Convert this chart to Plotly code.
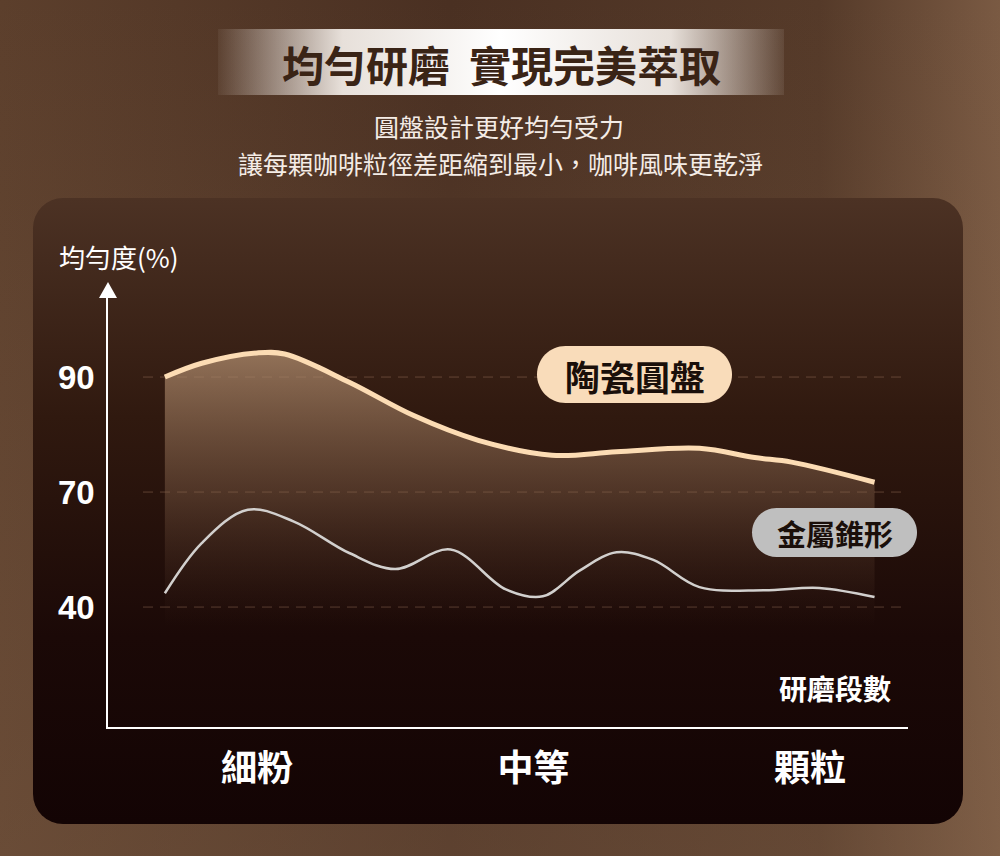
import base64
import numpy as np
import plotly.graph_objects as go

W, H = 1000, 856
CJK = "Noto Sans CJK TC"

# ---- data ----
GRIND_LABELS = ["細粉", "中等", "顆粒"]
GRIND_TICKS = [2, 5, 8]
Y_TICKS = [40, 70, 90]

ceramic_x = [1.0, 1.4, 2.0, 2.3, 3.0, 3.7, 4.4, 5.2, 5.9, 6.8, 7.4, 7.8, 8.7]
ceramic_y = [90.0, 92.4, 94.2, 94.0, 89.1, 83.3, 79.0, 76.4, 77.0, 77.6, 76.0, 75.2, 71.7]

metal_x = [1.0, 1.4, 1.9, 2.4, 3.0, 3.5, 4.1, 4.7, 5.1, 5.5, 5.9, 6.3, 6.8, 7.5, 8.1, 8.7]
metal_y = [43.6, 56.7, 65.4, 62.3, 54.1, 49.9, 55.0, 44.6, 42.8, 49.5, 54.3, 52.3, 45.2, 44.4, 45.0, 42.6]

FILL_FLOOR = 35  # 陶瓷圓盤 shaded area runs down to here


def to_axis(v):
    """The chart's y scale is stretched: 40→70 and 70→90 get the same height."""
    v = np.asarray(v, dtype=float)
    return np.where(v >= 70, 1 + (v - 70) / 20, (v - 40) / 30)


def px(x):
    return x / W


def py(y):
    return 1 - y / H


def pill_path(x0, y0, x1, y1):
    r = (y1 - y0) / 2
    k = 0.5523 * r
    pts = [
        ("M", [(x0 + r, y0)]),
        ("L", [(x1 - r, y0)]),
        ("C", [(x1 - r + k, y0), (x1, y0 + r - k), (x1, y0 + r)]),
        ("C", [(x1, y0 + r + k), (x1 - r + k, y1), (x1 - r, y1)]),
        ("L", [(x0 + r, y1)]),
        ("C", [(x0 + r - k, y1), (x0, y0 + r + k), (x0, y0 + r)]),
        ("C", [(x0, y0 + r - k), (x0 + r - k, y0), (x0 + r, y0)]),
    ]
    out = ""
    for cmd, p in pts:
        out += cmd + " ".join(f"{px(a):.5f},{py(b):.5f}" for a, b in p)
    return out + "Z"


# background, panel and title banner as one svg picture
bg_svg = f"""<svg xmlns='http://www.w3.org/2000/svg' width='{W}' height='{H}' viewBox='0 0 {W} {H}' preserveAspectRatio='none'>
<defs>
<linearGradient id='bg' x1='0' y1='0' x2='1' y2='0'>
<stop offset='0' stop-color='#5c3f2c'/><stop offset='0.45' stop-color='#4a3022'/>
<stop offset='0.82' stop-color='#553a29'/><stop offset='1' stop-color='#7a5a43'/></linearGradient>
<linearGradient id='bgv' x1='0' y1='0' x2='0' y2='1'>
<stop offset='0' stop-color='#8a6a50' stop-opacity='0'/><stop offset='1' stop-color='#8a6a50' stop-opacity='0.3'/></linearGradient>
<linearGradient id='panel' x1='0' y1='0' x2='0' y2='1'>
<stop offset='0' stop-color='#4c3224'/><stop offset='0.35' stop-color='#30190f'/>
<stop offset='0.7' stop-color='#1b0907'/><stop offset='1' stop-color='#130404'/></linearGradient>
<linearGradient id='banner' x1='0' y1='0' x2='1' y2='0'>
<stop offset='0' stop-color='#f8f3ee' stop-opacity='0.05'/><stop offset='0.22' stop-color='#f8f3ee' stop-opacity='0.9'/>
<stop offset='0.5' stop-color='#ffffff' stop-opacity='1'/><stop offset='0.8' stop-color='#f8f3ee' stop-opacity='0.9'/>
<stop offset='1' stop-color='#f8f3ee' stop-opacity='0.08'/></linearGradient>
</defs>
<rect width='{W}' height='{H}' fill='url(#bg)'/>
<rect width='{W}' height='{H}' fill='url(#bgv)'/>
<rect x='33' y='198' width='930' height='626' rx='30' ry='30' fill='url(#panel)'/>
<rect x='218' y='29' width='566' height='66' fill='url(#banner)'/>
</svg>"""
bg_uri = "data:image/svg+xml;base64," + base64.b64encode(bg_svg.encode("utf-8")).decode()

fig = go.Figure()

# invisible floor for the shaded area
fig.add_trace(go.Scatter(
    x=[ceramic_x[0], ceramic_x[-1]], y=to_axis([FILL_FLOOR, FILL_FLOOR]),
    mode="lines", line=dict(width=0), hoverinfo="skip", showlegend=False,
))
fig.add_trace(go.Scatter(
    x=ceramic_x, y=to_axis(ceramic_y), mode="lines", name="陶瓷圓盤",
    line=dict(color="#fcdcb4", width=5, shape="spline", smoothing=1.0),
    fill="tonexty",
    fillgradient=dict(
        type="vertical",
        start=float(to_axis(FILL_FLOOR)), stop=float(to_axis(max(ceramic_y))),
        colorscale=[[0, "rgba(90,60,45,0)"], [0.5, "rgba(140,105,80,0.4)"], [1, "rgba(175,140,110,0.75)"]],
    ),
    hoverinfo="skip",
))
fig.add_trace(go.Scatter(
    x=metal_x, y=to_axis(metal_y), mode="lines", name="金屬錐形",
    line=dict(color="#d2d0ce", width=2.5, shape="spline", smoothing=1.0),
    hoverinfo="skip",
))

shapes = []
for t in Y_TICKS:
    shapes.append(dict(
        type="line", xref="paper", yref="y", x0=px(143), x1=px(908),
        y0=float(to_axis(t)), y1=float(to_axis(t)),
        line=dict(color="rgba(160,120,95,0.45)", width=1, dash="10px,7px"), layer="below",
    ))
# y axis arrow head
shapes.append(dict(
    type="path", xref="paper", yref="paper",
    path=f"M{px(99)},{py(298)} L{px(108)},{py(282)} L{px(117)},{py(298)} Z",
    fillcolor="white", line=dict(width=0),
))
# legend pills
shapes.append(dict(type="path", xref="paper", yref="paper", path=pill_path(537, 346, 732, 403),
                   fillcolor="#f9dcba", line=dict(width=0), layer="above"))
shapes.append(dict(type="path", xref="paper", yref="paper", path=pill_path(752, 508, 917, 557),
                   fillcolor="#bfbfbf", line=dict(width=0), layer="above"))


def note(text, x, y, size, color="white", weight=400, family=CJK, xanchor="center"):
    return dict(text=text, x=px(x), y=py(y), xref="paper", yref="paper", showarrow=False,
                xanchor=xanchor, yanchor="middle",
                font=dict(family=family, size=size, color=color, weight=weight))


annotations = [
    note("均勻研磨  實現完美萃取", 501, 63, 42, color="#3a2416", weight=700),
    note("圓盤設計更好均勻受力", 499, 126, 25, color="#f4ece6"),
    note("讓每顆咖啡粒徑差距縮到最小，咖啡風味更乾淨", 500, 163, 25, color="#f4ece6"),
    note("均勻度(%)", 119, 256, 26),
    note("研磨段數", 835, 688, 28, weight=700),
    note("陶瓷圓盤", 635, 375, 35, color="#1a0f0a", weight=700),
    note("金屬錐形", 835, 533, 29, color="#1a0f0a", weight=700),
]

fig.update_layout(
    width=W, height=H,
    margin=dict(l=0, r=0, t=0, b=0, pad=0),
    paper_bgcolor="#533827", plot_bgcolor="rgba(0,0,0,0)",
    showlegend=False,
    images=[dict(source=bg_uri, xref="paper", yref="paper", x=0, y=1, sizex=1, sizey=1,
                 xanchor="left", yanchor="top", sizing="stretch", layer="below")],
    xaxis=dict(
        domain=[px(108), px(908)], range=[0.383, 9.063],
        tickvals=GRIND_TICKS, ticktext=GRIND_LABELS, ticks="",
        tickfont=dict(family=CJK, size=36, color="white", weight=700), ticklabelstandoff=9,
        showline=True, linecolor="white", linewidth=1.5,
        showgrid=False, zeroline=False, fixedrange=True,
    ),
    yaxis=dict(
        domain=[py(727), py(290)], range=[-1.043, 2.757],
        tickvals=to_axis(Y_TICKS).tolist(), ticktext=[str(t) for t in Y_TICKS], ticks="",
        tickfont=dict(family="Liberation Sans", size=33, color="white", weight=700), ticklabelstandoff=5,
        showline=True, linecolor="white", linewidth=1.5,
        showgrid=False, zeroline=False, fixedrange=True,
    ),
    shapes=shapes,
    annotations=annotations,
)

# page margin off so the 1000x856 figure fills the window
fig.write_html("out.html", config={"displayModeBar": False},
               post_script="document.body.style.margin='0';")
